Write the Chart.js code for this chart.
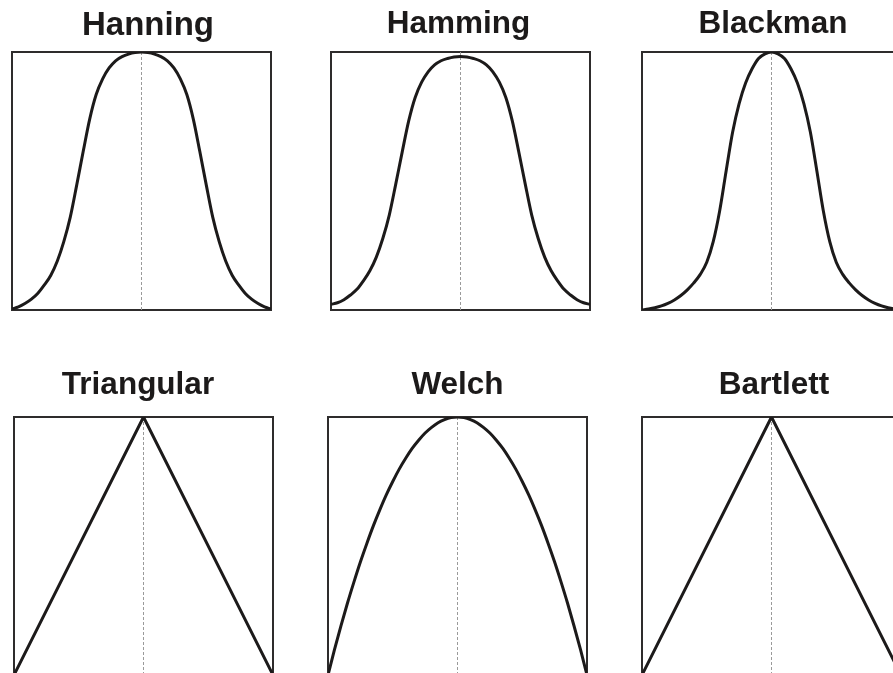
<!DOCTYPE html>
<html>
<head>
<meta charset="utf-8">
<script src="https://cdn.jsdelivr.net/npm/chart.js@4.4.1/dist/chart.umd.min.js"></script>
<style>
  html, body { margin: 0; padding: 0; background: #fff; overflow: hidden; }
  #wrap { position: relative; width: 893px; height: 673px; overflow: hidden; }
  #wrap canvas { position: absolute; }
</style>
</head>
<body>
<div id="wrap"></div>
<script>
// window position, -1 .. 1 (step 0.05) for the smooth windows
const xSmooth = [-1, -0.95, -0.9, -0.85, -0.8, -0.75, -0.7, -0.65, -0.6, -0.55, -0.5,
                 -0.45, -0.4, -0.35, -0.3, -0.25, -0.2, -0.15, -0.1, -0.05, 0,
                 0.05, 0.1, 0.15, 0.2, 0.25, 0.3, 0.35, 0.4, 0.45, 0.5,
                 0.55, 0.6, 0.65, 0.7, 0.75, 0.8, 0.85, 0.9, 0.95, 1];
// the two triangle windows only need their corners
const xCorner = [-1, 0, 1];

const titles = ['Hanning', 'Hamming', 'Blackman', 'Triangular', 'Welch', 'Bartlett'];

// values (0 = bottom of box, 1 = top)
const hanning = [0.004, 0.012, 0.025, 0.042, 0.065, 0.097, 0.135, 0.19, 0.265, 0.36, 0.485,
                 0.615, 0.74, 0.835, 0.896, 0.938, 0.966, 0.982, 0.992, 0.998, 1,
                 0.998, 0.992, 0.982, 0.966, 0.938, 0.896, 0.835, 0.74, 0.615, 0.485,
                 0.36, 0.265, 0.19, 0.135, 0.097, 0.065, 0.042, 0.025, 0.012, 0.004];
const hamming = [0.022, 0.028, 0.04, 0.058, 0.08, 0.113, 0.152, 0.205, 0.277, 0.368, 0.488,
                 0.613, 0.733, 0.824, 0.883, 0.923, 0.95, 0.966, 0.975, 0.981, 0.983,
                 0.981, 0.975, 0.966, 0.95, 0.923, 0.883, 0.824, 0.733, 0.613, 0.488,
                 0.368, 0.277, 0.205, 0.152, 0.113, 0.08, 0.058, 0.04, 0.028, 0.022];
const blackman = [0, 0.004, 0.009, 0.016, 0.026, 0.039, 0.056, 0.078, 0.105, 0.138, 0.185,
                  0.265, 0.385, 0.54, 0.69, 0.8, 0.88, 0.935, 0.975, 0.993, 1,
                  0.993, 0.975, 0.935, 0.88, 0.8, 0.69, 0.54, 0.385, 0.265, 0.185,
                  0.138, 0.105, 0.078, 0.056, 0.039, 0.026, 0.016, 0.009, 0.004, 0];
const welch = [0, 0.098, 0.19, 0.278, 0.36, 0.438, 0.51, 0.578, 0.64, 0.698, 0.75,
               0.798, 0.84, 0.878, 0.91, 0.938, 0.96, 0.978, 0.99, 0.998, 1,
               0.998, 0.99, 0.978, 0.96, 0.938, 0.91, 0.878, 0.84, 0.798, 0.75,
               0.698, 0.64, 0.578, 0.51, 0.438, 0.36, 0.278, 0.19, 0.098, 0];
const triangular = [0, 1, 0];
const bartlett = [0, 1, 0];

const BOX_W = 259;
const BOX_H = 258;
const PAD = 6;

// where each panel sits on the page; shift moves the title off the box centre
const panels = [
    { title: titles[0], xs: xSmooth, values: hanning,    left: 12,  top: 0,   size: 33,   pt: 5.7, pb: 6.7,  shift: 6.5 },
    { title: titles[1], xs: xSmooth, values: hamming,    left: 331, top: 0,   size: 31.5, pt: 5,   pb: 9.2,  shift: -2 },
    { title: titles[2], xs: xSmooth, values: blackman,   left: 642, top: 0,   size: 31.5, pt: 5,   pb: 9.2,  shift: 1.5 },
    { title: titles[3], xs: xCorner, values: triangular, left: 14,  top: 360, size: 31.5, pt: 6,   pb: 13.2, shift: -5.5 },
    { title: titles[4], xs: xSmooth, values: welch,      left: 328, top: 360, size: 31.5, pt: 6,   pb: 13.2, shift: 0 },
    { title: titles[5], xs: xCorner, values: bartlett,   left: 642, top: 360, size: 31.5, pt: 6,   pb: 13.2, shift: 2.5 }
];

const framePlugin = {
    id: 'frame',
    beforeDatasetsDraw(chart) {
        const { ctx, chartArea: a } = chart;
        ctx.save();
        ctx.strokeStyle = '#2e2c2c';
        ctx.lineWidth = 2;
        ctx.strokeRect(a.left, a.top, a.right - a.left, a.bottom - a.top);
        ctx.restore();
    }
};

const wrap = document.getElementById('wrap');

panels.forEach(p => {
    const head = p.pt + p.size * 1.2 + p.pb;
    const gutter = Math.abs(p.shift) * 2;   // empty y axis that pushes the box sideways
    const canvas = document.createElement('canvas');
    canvas.width = BOX_W + PAD * 2 + gutter;
    canvas.height = Math.round(head + BOX_H + PAD);
    canvas.style.left = (p.left - PAD - (p.shift < 0 ? gutter : 0)) + 'px';
    canvas.style.top = p.top + 'px';
    wrap.appendChild(canvas);

    new Chart(canvas, {
        type: 'line',
        data: {
            datasets: [
                {
                    data: p.xs.map((x, i) => ({ x: x, y: p.values[i] })),
                    borderColor: '#1c1a1a',
                    borderWidth: 3,
                    pointRadius: 0,
                    fill: false,
                    cubicInterpolationMode: p.xs.length > 3 ? 'monotone' : 'default',
                    tension: 0,
                    borderJoinStyle: 'miter'
                },
                {
                    data: [{ x: 0, y: 0 }, { x: 0, y: 1 }],
                    borderColor: '#9a9a9a',
                    borderWidth: 1,
                    borderDash: [3, 2],
                    pointRadius: 0,
                    fill: false
                }
            ]
        },
        options: {
            responsive: false,
            animation: false,
            events: [],
            layout: { padding: { left: PAD, right: PAD, top: 0, bottom: PAD } },
            scales: {
                x: { type: 'linear', min: -1, max: 1, display: false },
                y: {
                    min: 0, max: 1,
                    display: gutter > 0,
                    position: p.shift > 0 ? 'right' : 'left',
                    ticks: { display: false },
                    grid: { display: false },
                    border: { display: false },
                    afterFit: s => { s.width = gutter; }
                }
            },
            plugins: {
                legend: { display: false },
                tooltip: { enabled: false },
                title: {
                    display: true,
                    text: p.title,
                    color: '#1c1a1a',
                    font: { family: "'Liberation Sans', Arial, sans-serif", size: p.size, weight: 'bold' },
                    padding: { top: p.pt, bottom: p.pb }
                }
            }
        },
        plugins: [framePlugin]
    });
});
</script>
</body>
</html>
